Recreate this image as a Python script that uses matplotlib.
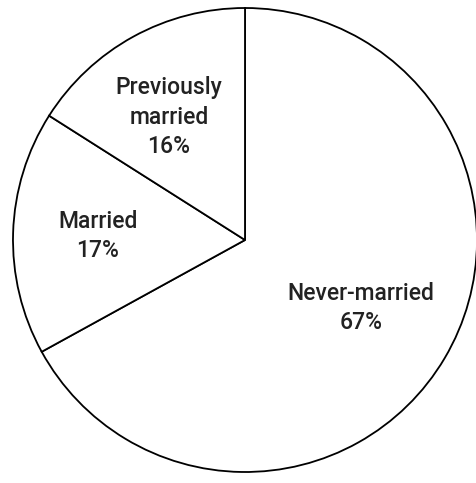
import matplotlib
matplotlib.use("Agg")
import matplotlib.pyplot as plt

categories = ["Never-married", "Married", "Previously\nmarried"]
values = [67, 17, 16]

plt.rcParams['font.family'] = ['Roboto', 'DejaVu Sans']

W, H = 477, 483
fig = plt.figure(figsize=(W/100, H/100), dpi=100)
ax = fig.add_axes([0, 0, 1, 1])

cx, cy, r = 245, H - 240, 232
ax.pie(values, center=(cx, cy), radius=r, startangle=90, counterclock=False,
       colors=['white'] * 3, wedgeprops=dict(edgecolor='black', linewidth=1.3),
       frame=True)
ax.set_xlim(0, W)
ax.set_ylim(0, H)
ax.set_aspect('equal')
ax.axis('off')

label_pos = [(361, 308), (98, 236), (169, 117)]
for name, v, (x, y) in zip(categories, values, label_pos):
    ax.text(x, H - y, f"{name}\n{v}%", ha='center', va='center', fontsize=16.5,
            fontweight='medium', linespacing=1.35, color='#222222')

fig.savefig("out.png", dpi=100)
